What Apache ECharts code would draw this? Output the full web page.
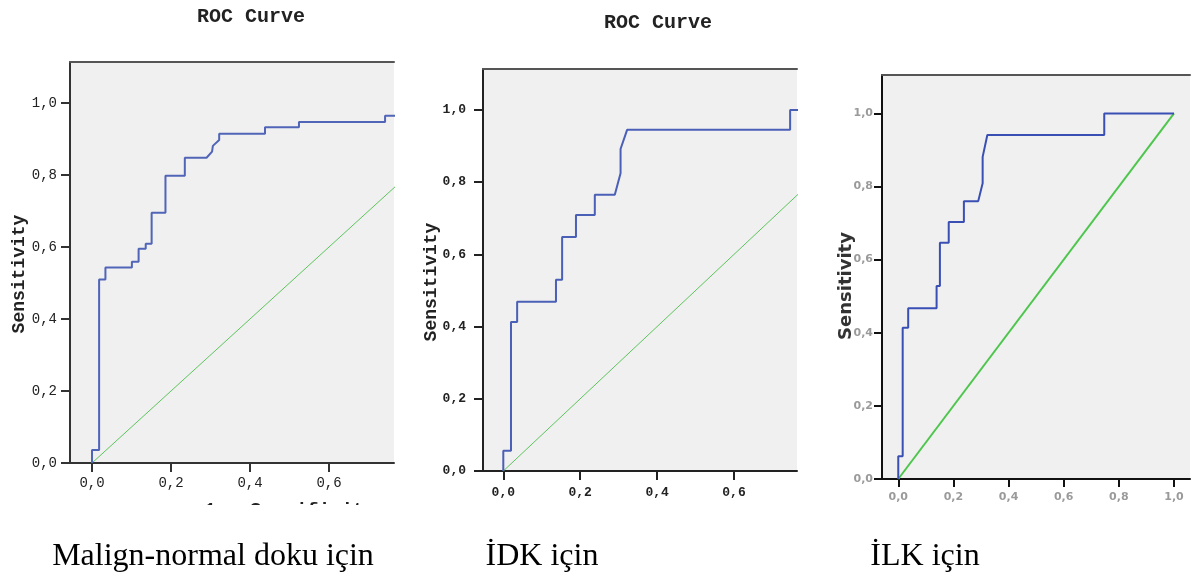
<!DOCTYPE html>
<html>
<head>
<meta charset="utf-8">
<script src="https://cdn.jsdelivr.net/npm/echarts@6/dist/echarts.min.js"></script>
<style>
  html, body { margin: 0; padding: 0; background: #ffffff; }
  #chart { width: 1192px; height: 578px; }
</style>
</head>
<body>
<div id="chart"></div>
<script>
// ---- data ----
const tickValues = [0, 0.2, 0.4, 0.6, 0.8, 1.0];
const titles = ["ROC Curve", "ROC Curve"];
const yName = "Sensitivity";
const xName = "1 - Specificity";
const captions = ["Malign-normal doku için", "İDK için", "İLK için"];

// Panel 1: Malign-normal doku
const fpr1  = [0, 0, 0.018, 0.018, 0.034, 0.034, 0.101, 0.101, 0.118, 0.118, 0.136, 0.136, 0.151, 0.151, 0.186, 0.186, 0.235, 0.235, 0.290, 0.304, 0.306, 0.322, 0.322, 0.438, 0.438, 0.524, 0.524, 0.742, 0.742, 0.78];
const sens1 = [0, 0.036, 0.036, 0.510, 0.510, 0.543, 0.543, 0.559, 0.559, 0.595, 0.595, 0.609, 0.609, 0.695, 0.695, 0.798, 0.798, 0.848, 0.848, 0.865, 0.881, 0.897, 0.915, 0.915, 0.933, 0.933, 0.947, 0.947, 0.965, 0.965];

// Panel 2: IDK
const fpr2  = [0, 0, 0.020, 0.020, 0.036, 0.036, 0.137, 0.137, 0.153, 0.153, 0.189, 0.189, 0.238, 0.238, 0.290, 0.305, 0.305, 0.322, 0.746, 0.746, 0.78];
const sens2 = [0, 0.056, 0.056, 0.413, 0.413, 0.469, 0.469, 0.530, 0.530, 0.648, 0.648, 0.709, 0.709, 0.765, 0.765, 0.825, 0.892, 0.945, 0.945, 1.0, 1.0];

// Panel 3: ILK
const fpr3  = [0, 0, 0.016, 0.016, 0.036, 0.036, 0.139, 0.139, 0.151, 0.151, 0.183, 0.183, 0.238, 0.238, 0.290, 0.306, 0.306, 0.323, 0.747, 0.747, 1.0];
const sens3 = [0, 0.062, 0.062, 0.414, 0.414, 0.467, 0.467, 0.528, 0.528, 0.646, 0.646, 0.703, 0.703, 0.760, 0.760, 0.809, 0.881, 0.941, 0.941, 1.0, 1.0];

// Reference diagonal
const diagX = [0, 1];
const diagY = [0, 1];

// ---- build chart ----
const zip = (a, b) => a.map((v, i) => [v, b[i]]);
const fmt = v => v.toFixed(1).replace('.', ',');

const panels = [
  { left: 70,  top: 62, width: 324, height: 401, xmin: -0.0557, xmax: 0.7646, ymax: 1.114,
    lblFont: { fontFamily: 'Liberation Mono', fontSize: 14, color: '#222', fontWeight: 'normal' },
    xMargin: 13, yMargin: 13, tickLen: 9, axisColor: '#333', axisW: 2,
    blue: '#5064b8', blueW: 2, green: '#5cc45c', greenW: 1,
    curve: zip(fpr1, sens1) },
  { left: 483, top: 69, width: 314, height: 402, xmin: -0.0528, xmax: 0.7639, ymax: 1.1136,
    lblFont: { fontFamily: 'Liberation Mono', fontSize: 13, color: '#222', fontWeight: 'bold' },
    xMargin: 15, yMargin: 17, tickLen: 9, axisColor: '#222', axisW: 2,
    blue: '#4a5fb6', blueW: 2, green: '#5cc45c', greenW: 1,
    curve: zip(fpr2, sens2) },
  { left: 882, top: 75, width: 308, height: 404, xmin: -0.059, xmax: 1.058, ymax: 1.105,
    lblFont: { fontFamily: 'DejaVu Sans', fontSize: 11, color: '#9a9a9a', fontWeight: 'bold' },
    xMargin: 13, yMargin: 9, tickLen: 8, axisColor: '#111', axisW: 2,
    blue: '#3a4fb4', blueW: 2, green: '#4ec64e', greenW: 2,
    curve: zip(fpr3, sens3) }
];

const grid = [], xAxis = [], yAxis = [], series = [];
panels.forEach((p, i) => {
  grid.push({ left: p.left, top: p.top, width: p.width, height: p.height,
              show: true, backgroundColor: '#f0f0f0', borderWidth: 0, containLabel: false });
  xAxis.push({
    type: 'value', gridIndex: i, min: p.xmin, max: p.xmax, position: 'bottom',
    axisLine: { show: true, onZero: false, lineStyle: { color: p.axisColor, width: p.axisW } },
    axisTick: { show: true, customValues: tickValues, length: p.tickLen, inside: false,
                lineStyle: { color: p.axisColor, width: 2 } },
    axisLabel: { show: true, customValues: tickValues, formatter: fmt, margin: p.xMargin,
                 fontFamily: p.lblFont.fontFamily, fontSize: p.lblFont.fontSize,
                 color: p.lblFont.color, fontWeight: p.lblFont.fontWeight, hideOverlap: false },
    splitLine: { show: false }
  });
  yAxis.push({
    type: 'value', gridIndex: i, min: 0, max: p.ymax,
    axisLine: { show: true, onZero: false, lineStyle: { color: p.axisColor, width: p.axisW } },
    axisTick: { show: true, customValues: tickValues, length: p.tickLen, inside: false,
                lineStyle: { color: p.axisColor, width: 2 } },
    axisLabel: { show: true, customValues: tickValues, formatter: fmt, margin: p.yMargin,
                 fontFamily: p.lblFont.fontFamily, fontSize: p.lblFont.fontSize,
                 color: p.lblFont.color, fontWeight: p.lblFont.fontWeight },
    splitLine: { show: false }
  });
});
// top border lines as extra axes
panels.forEach((p, i) => {
  xAxis.push({
    type: 'value', gridIndex: i, min: p.xmin, max: p.xmax, position: 'top',
    axisLine: { show: true, onZero: false, lineStyle: { color: '#555', width: 2 } },
    axisTick: { show: false }, axisLabel: { show: false }, splitLine: { show: false }
  });
});
panels.forEach((p, i) => {
  series.push({
    type: 'line', xAxisIndex: i, yAxisIndex: i, data: zip(diagX, diagY),
    showSymbol: false, symbol: 'none', clip: true, silent: true,
    lineStyle: { color: p.green, width: p.greenW }
  });
  series.push({
    type: 'line', xAxisIndex: i, yAxisIndex: i, data: p.curve,
    showSymbol: false, symbol: 'none', clip: true, silent: true,
    lineStyle: { color: p.blue, width: p.blueW }
  });
});

const monoBold = (size) => ({ fontFamily: 'Liberation Mono', fontWeight: 'bold', fontSize: size, fill: '#222' });

const graphic = [
  // Y axis names
  { type: 'text', x: 19, y: 274, rotation: Math.PI / 2,
    style: Object.assign({ text: yName, textAlign: 'center', textVerticalAlign: 'middle' }, monoBold(18)) },
  { type: 'text', x: 431, y: 282, rotation: Math.PI / 2,
    style: Object.assign({ text: yName, textAlign: 'center', textVerticalAlign: 'middle' }, monoBold(18)) },
  { type: 'text', x: 846, y: 286, rotation: Math.PI / 2,
    style: { text: yName, textAlign: 'center', textVerticalAlign: 'middle',
             fontFamily: 'DejaVu Sans', fontWeight: 'bold', fontSize: 18, fill: '#333' } },
  // partially visible x axis name of panel 1
  { type: 'text', x: 290, y: 501, z: 10,
    style: Object.assign({ text: xName, textAlign: 'center', textVerticalAlign: 'top' }, monoBold(19)) },
  { type: 'rect', shape: { x: 150, y: 505, width: 260, height: 30 }, z: 20,
    style: { fill: '#ffffff' } },
  // captions
  { type: 'text', x: 213, y: 557, z: 30,
    style: { text: captions[0], textAlign: 'center', textVerticalAlign: 'middle',
             fontFamily: 'Liberation Serif', fontSize: 32, fill: '#000' } },
  { type: 'text', x: 542, y: 557, z: 30,
    style: { text: captions[1], textAlign: 'center', textVerticalAlign: 'middle',
             fontFamily: 'Liberation Serif', fontSize: 32, fill: '#000' } },
  { type: 'text', x: 925, y: 557, z: 30,
    style: { text: captions[2], textAlign: 'center', textVerticalAlign: 'middle',
             fontFamily: 'Liberation Serif', fontSize: 32, fill: '#000' } }
];

const title = [
  { text: titles[0], left: 246, top: 2, textAlign: 'center',
    textStyle: { fontFamily: 'Liberation Mono', fontWeight: 'bold', fontSize: 20, color: '#222' } },
  { text: titles[1], left: 653, top: 8, textAlign: 'center',
    textStyle: { fontFamily: 'Liberation Mono', fontWeight: 'bold', fontSize: 20, color: '#222' } }
];

const chart = echarts.init(document.getElementById('chart'), null, { renderer: 'canvas', width: 1192, height: 578 });
chart.setOption({
  animation: false,
  backgroundColor: '#ffffff',
  title, grid, xAxis, yAxis, series, graphic
});
</script>
</body>
</html>
